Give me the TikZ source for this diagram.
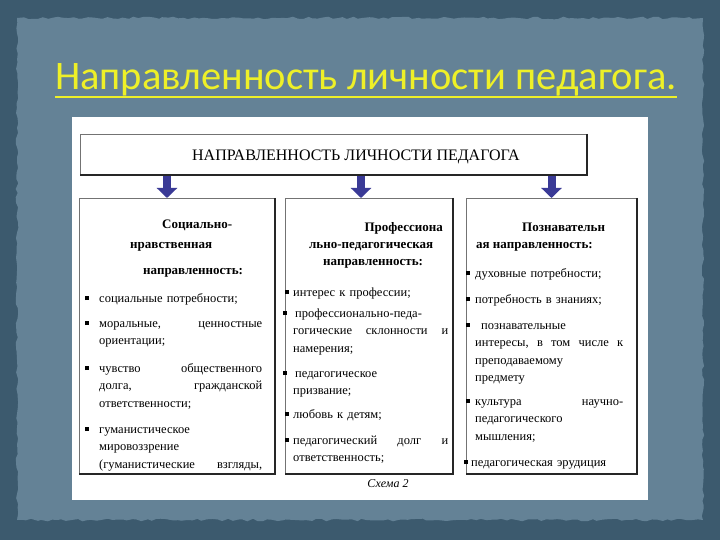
\documentclass[tikz,border=0pt]{standalone}
\usepackage{fontspec}
\setmainfont{Liberation Serif}
\newfontfamily\titlefont{Carlito}
\usepackage{xcolor}
\usetikzlibrary{arrows.meta,positioning,calc,decorations.pathmorphing}
\definecolor{slatedark}{RGB}{60,90,110}
\definecolor{slatepaper}{RGB}{100,130,150}
\definecolor{titleyellow}{RGB}{238,240,40}
\definecolor{arrowblue}{RGB}{58,58,150}
\newcommand{\bul}[1]{\leavevmode\llap{\raisebox{1.8pt}{\rule{3.8pt}{3.8pt}}\hspace{#1}}}

\begin{document}
\begin{tikzpicture}[x=1pt,y=-1pt,>=Stealth]
\tikzstyle{box}=[draw=black!55,line width=1pt,fill=white,inner sep=0pt,anchor=north west]
\tikzstyle{boxshade}=[draw=black!85,line width=1.8pt]
\tikzstyle{hd}=[inner sep=0pt,anchor=base west,font=\fontsize{13}{16}\selectfont\bfseries]
\tikzstyle{itm}=[inner sep=0pt,anchor=base west,align=left,font=\fontsize{12.5}{17.5}\selectfont]
\tikzstyle{blockarrow}=[arrowblue,line width=8pt,-{Triangle[width=20pt,length=10pt]}]
\useasboundingbox (0,0) rectangle (720,540);
\fill[slatedark] (0,0) rectangle (720,540);
\pgfmathsetseed{7}
\fill[slatepaper,decorate,decoration={random steps,segment length=5pt,amplitude=1.3pt}] (17,18) rectangle (703,520);
\node[font=\titlefont\fontsize{40.5}{46}\selectfont,text=titleyellow,anchor=base west,inner sep=0pt] (title) at (55,90) {Направленность личности педагога.};
\draw[titleyellow,line width=2.2pt] ($(title.base west)+(0,7)$) -- ($(title.base east)+(0,7)$);
\fill[white] (72,117) rectangle (648,500);
\node[box,minimum width=506pt,minimum height=40pt] (head) at (80,134) {};
\node[inner sep=0pt,font=\fontsize{16}{18}\selectfont] (headtxt) at (356,157) {НАПРАВЛЕННОСТЬ ЛИЧНОСТИ ПЕДАГОГА};
\node[box,minimum width=195pt,minimum height=275pt] (soc) at (79,198) {};
\node[box,minimum width=167pt,minimum height=275pt] (prof) at (285,198) {};
\node[box,minimum width=170pt,minimum height=275pt] (cog) at (466,198) {};
\foreach \b in {head,soc,prof,cog}
  \draw[boxshade] (\b.north east) -- (\b.south east) -- (\b.south west);
\draw[blockarrow] ($(head.south -| soc.north)+(-10,1)$) -- ($(soc.north)+(-10,0)$);
\draw[blockarrow] ($(head.south -| prof.north)+(-8,1)$) -- ($(prof.north)+(-8,0)$);
\draw[blockarrow] ($(head.south -| cog.north)+(0,1)$) -- (cog.north);
\node[hd] (socA) at (162,229) {Социально-};
\node[hd] (socB) at (130,248) {нравственная};
\node[hd] (socC) at (143,274) {направленность:};
\node[itm,text width=163pt] (soc1) at (99,302) {\bul{10pt}социальные потребности;};
\node[itm,text width=163pt] (soc2) at (99,327) {\bul{10pt}моральные,\hfill ценностные\\ориентации;};
\node[itm,text width=163pt] (soc3) at (99,372) {\bul{10pt}чувство\hfill общественного\\долга,\hfill гражданской\\ответственности;};
\node[itm,text width=163pt] (soc4) at (99,433) {\bul{10pt}гуманистическое\\мировоззрение\\(гуманистические\hfill взгляды,};
\node[hd,anchor=base east] (profA) at (443,231) {Профессиона};
\node[hd] (profB) at (309,248) {льно-педагогическая};
\node[hd] (profC) at (323,265) {направленность:};
\node[itm,text width=155pt] (prof1) at (293,296) {\bul{4pt}интерес к профессии;};
\node[itm,text width=155pt] (prof2) at (293,317) {\bul{6pt}\hspace{2pt}профессионально-педа-\\гогические\hfill склонности\hfill и\\намерения;};
\node[itm,text width=155pt] (prof3) at (293,377) {\bul{6pt}\hspace{2pt}педагогическое\\призвание;};
\node[itm,text width=155pt] (prof4) at (293,418) {\bul{4pt}любовь к детям;};
\node[itm,text width=155pt] (prof5) at (293,444) {\bul{4pt}педагогический\hfill долг\hfill и\\ответственность;};
\node[hd] (cogA) at (522,232) {Познавательн};
\node[hd] (cogB) at (476,248) {ая направленность:};
\node[itm,text width=148pt] (cog1) at (475,277) {\bul{5pt}духовные потребности;};
\node[itm,text width=148pt] (cog2) at (475,303) {\bul{5pt}потребность в знаниях;};
\node[itm,text width=148pt] (cog3) at (475,329) {\bul{5pt}\hspace{6pt}познавательные\\интересы,\hfill в\hfill том\hfill числе\hfill к\\преподаваемому\\предмету};
\node[itm,text width=148pt] (cog4) at (475,405) {\bul{5pt}культура\hfill научно-\\педагогического\\мышления;};
\node[itm,text width=152pt] (cog5) at (471,466) {\bul{3pt}педагогическая эрудиция};
\node[inner sep=0pt,font=\itshape\fontsize{12}{14}\selectfont] (schema) at (388,484) {Схема 2};
\end{tikzpicture}
\end{document}
